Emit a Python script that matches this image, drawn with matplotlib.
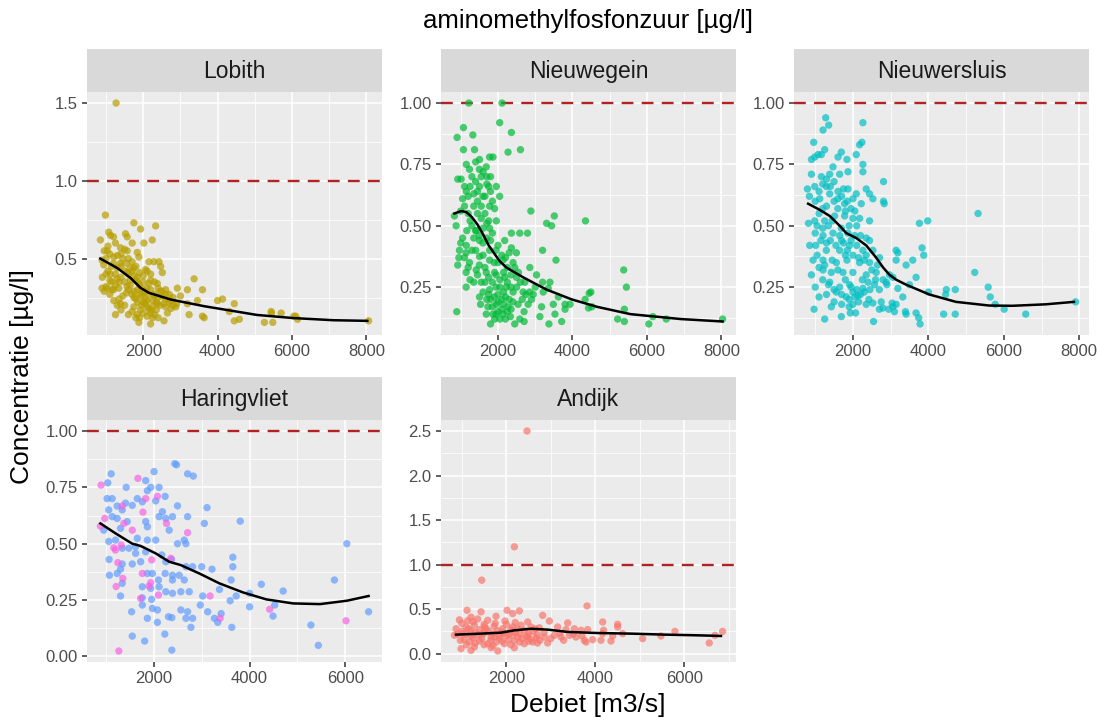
import numpy as np
import matplotlib.pyplot as plt
from matplotlib.ticker import MultipleLocator, FormatStrFormatter

plt.rcParams['font.family'] = ['Liberation Sans', 'DejaVu Sans']

# ---- data: (debiet m3/s, concentratie ug/l) ----
lobith_pts = [
    (1270, 1.50), (983, 0.78), (1748, 0.73), (1928, 0.69), (2333, 0.71), (1073, 0.67),
    (1118, 0.65), (848, 0.62), (1523, 0.66), (1568, 0.64), (2243, 0.62), (2018, 0.60),
    (1703, 0.60), (1253, 0.60), (1388, 0.57), (1028, 0.55), (1568, 0.55), (1838, 0.54),
    (1883, 0.51), (893, 0.49), (938, 0.46), (1208, 0.51), (1388, 0.47), (2153, 0.48),
    (2288, 0.48), (2423, 0.48), (2468, 0.45), (2513, 0.41), (2063, 0.43), (1748, 0.44),
    (1568, 0.41), (1118, 0.40), (1298, 0.37), (1838, 0.38), (2198, 0.36), (2378, 0.34),
    (3368, 0.37), (893, 0.31), (1028, 0.31), (1163, 0.30), (1343, 0.31), (1568, 0.32),
    (1748, 0.29), (2018, 0.28), (2288, 0.26), (2603, 0.30), (2918, 0.31), (3188, 0.30),
    (3593, 0.30), (1208, 0.23), (1388, 0.21), (1748, 0.19), (1928, 0.17), (2108, 0.23),
    (2378, 0.21), (2738, 0.23), (2873, 0.19), (3188, 0.21), (3233, 0.14), (1253, 0.14),
    (1838, 0.14), (2198, 0.15), (2558, 0.10), (2198, 0.08), (1883, 0.09), (3458, 0.23),
    (3593, 0.13), (3638, 0.12), (3998, 0.23), (4133, 0.24), (4448, 0.21), (4313, 0.16),
    (4448, 0.10), (4583, 0.11), (5258, 0.09), (5438, 0.16), (5483, 0.09), (5708, 0.15),
    (5450, 0.15), (6050, 0.13), (6150, 0.11), (6100, 0.13), (8060, 0.10),
    (1400, 0.45), (1500, 0.42), (1600, 0.40), (1700, 0.42), (1800, 0.36), (1900, 0.33),
    (2000, 0.35), (2100, 0.31), (2200, 0.30), (2300, 0.27), (2400, 0.25), (2500, 0.26),
    (2600, 0.24), (2700, 0.22), (1650, 0.33), (1550, 0.28), (1450, 0.26), (1350, 0.24),
    (1750, 0.25), (1850, 0.22), (1950, 0.20), (2050, 0.21), (2150, 0.18), (2250, 0.19),
    (2350, 0.17), (2450, 0.20), (1300, 0.44), (1200, 0.47), (1100, 0.53), (1000, 0.50),
    (900, 0.38), (1050, 0.42), (1150, 0.35), (1250, 0.33), (1700, 0.48), (1800, 0.45),
    (1900, 0.41), (2000, 0.39), (2100, 0.42), (2200, 0.40), (1600, 0.50), (1650, 0.36),
    (2300, 0.35), (2400, 0.31), (2500, 0.29), (2600, 0.27), (2800, 0.25), (2900, 0.21),
    (3000, 0.26), (1950, 0.26), (2050, 0.24), (2150, 0.27), (1850, 0.30), (1500, 0.35),
    (1400, 0.38), (1000, 0.32), (950, 0.29), (1100, 0.27), (1300, 0.20), (1700, 0.16),
    (1900, 0.12), (2000, 0.15), (2100, 0.13), (2250, 0.12), (2650, 0.15), (2750, 0.18),
    (1150, 0.45), (1250, 0.40), (1350, 0.35), (1450, 0.50), (1550, 0.47), (1650, 0.44),
    (1750, 0.39), (1850, 0.35), (1950, 0.31), (2050, 0.29), (2150, 0.34), (2250, 0.23),
    (2350, 0.22), (2450, 0.29), (2550, 0.21), (1600, 0.30), (1700, 0.27), (1800, 0.24),
    (1900, 0.27), (2000, 0.22), (2100, 0.19), (2200, 0.17), (1500, 0.20), (1400, 0.17),
    (1600, 0.14), (1800, 0.12), (2300, 0.14), (2400, 0.12), (2600, 0.19), (2700, 0.27),
    (2800, 0.20), (1000, 0.40), (1100, 0.36), (1200, 0.30), (950, 0.55), (1050, 0.58),
    (1300, 0.52), (1400, 0.53), (1500, 0.56), (1200, 0.64),
]
lobith_fit = [(846, 0.50), (1297, 0.44), (1657, 0.376), (1927, 0.312), (2153, 0.28),
              (2738, 0.237), (3640, 0.194), (4451, 0.162), (5054, 0.138), (6027, 0.118),
              (7108, 0.104), (8027, 0.10)]

nieuwegein_pts = [
    (1217, 1.00), (2108, 1.00), (2045, 0.92), (2360, 0.88), (1073, 0.90), (1325, 0.87),
    (902, 0.86), (2270, 0.80), (2603, 0.81), (1073, 0.81), (1370, 0.81), (1775, 0.78),
    (1865, 0.78), (1235, 0.73), (1505, 0.77), (1685, 0.74), (1010, 0.69), (920, 0.69),
    (1100, 0.66), (1955, 0.66), (2045, 0.62), (1505, 0.66), (1595, 0.62), (1775, 0.58),
    (1910, 0.57), (2882, 0.56), (3512, 0.54), (3440, 0.50), (3305, 0.51), (4349, 0.52),
    (830, 0.54), (875, 0.50), (1163, 0.48), (1415, 0.48), (1775, 0.49), (1955, 0.52),
    (2360, 0.47), (2585, 0.47), (2792, 0.47), (2180, 0.44), (1505, 0.44), (965, 0.40),
    (1145, 0.39), (1595, 0.43), (1775, 0.40), (2000, 0.42), (2360, 0.41), (2495, 0.39),
    (3197, 0.40), (920, 0.34), (1235, 0.35), (1505, 0.375), (1775, 0.36), (2135, 0.36),
    (2405, 0.35), (3557, 0.36), (2855, 0.33), (3035, 0.30), (1145, 0.31), (1415, 0.32),
    (1685, 0.31), (1910, 0.31), (2180, 0.29), (2495, 0.29), (2720, 0.27), (3197, 0.27),
    (3395, 0.27), (1145, 0.25), (1505, 0.21), (1775, 0.24), (2000, 0.22), (2225, 0.25),
    (2405, 0.23), (2675, 0.23), (2945, 0.22), (3215, 0.23), (3350, 0.245), (5375, 0.32),
    (5447, 0.25), (4448, 0.225), (4493, 0.23), (4340, 0.20), (3620, 0.21), (3800, 0.18),
    (3935, 0.18), (3485, 0.18), (3170, 0.17), (2810, 0.18), (2540, 0.18), (2270, 0.17),
    (1955, 0.18), (1730, 0.17), (1532, 0.18), (1685, 0.14), (1865, 0.14), (2135, 0.14),
    (2333, 0.13), (2585, 0.12), (1910, 0.12), (2450, 0.10), (2702, 0.11), (3125, 0.13),
    (3368, 0.10), (3710, 0.11), (3530, 0.14), (3800, 0.16), (4430, 0.165), (4520, 0.17),
    (5213, 0.12), (5393, 0.11), (5393, 0.16), (6050, 0.10), (6158, 0.13), (6518, 0.12),
    (8030, 0.12), (893, 0.15),
    (1300, 0.70), (1400, 0.68), (1450, 0.64), (1550, 0.70), (1600, 0.72), (1700, 0.70),
    (1800, 0.64), (1850, 0.60), (1200, 0.62), (1150, 0.64), (1050, 0.61), (1350, 0.58),
    (1450, 0.55), (1550, 0.53), (1650, 0.55), (1750, 0.52), (1850, 0.47), (1700, 0.45),
    (1600, 0.38), (1650, 0.33), (1750, 0.29), (1850, 0.27), (1950, 0.25), (2050, 0.28),
    (2150, 0.31), (2250, 0.33), (2350, 0.30), (1450, 0.30), (1350, 0.27), (1250, 0.28),
    (1150, 0.42), (1050, 0.45), (950, 0.37), (1000, 0.56), (1100, 0.58), (1250, 0.52),
    (1350, 0.45), (1400, 0.40), (1500, 0.34), (1550, 0.27), (1600, 0.23), (1700, 0.20),
    (1800, 0.20), (1900, 0.21), (2000, 0.19), (2100, 0.20), (2200, 0.21), (2300, 0.20),
    (2400, 0.19), (2500, 0.25), (2600, 0.27), (2000, 0.35), (1950, 0.40), (2100, 0.38),
    (2200, 0.37), (2300, 0.39), (2000, 0.15), (2100, 0.16), (2200, 0.12), (1800, 0.10),
    (2700, 0.15), (2900, 0.20), (3000, 0.25), (2850, 0.23),
    (1250, 0.66), (1350, 0.63), (1450, 0.60), (1550, 0.58), (1650, 0.62), (1750, 0.66),
    (1200, 0.55), (1300, 0.50), (1400, 0.48), (1500, 0.46), (1600, 0.49), (1700, 0.51),
    (1800, 0.44), (1900, 0.35), (1950, 0.30), (2050, 0.25), (2150, 0.23), (2250, 0.27),
    (2350, 0.25), (2450, 0.33), (2550, 0.31), (2650, 0.20), (2750, 0.22), (1650, 0.27),
    (1750, 0.22), (1850, 0.17), (1950, 0.14), (2050, 0.12), (2150, 0.18), (2250, 0.15),
    (2350, 0.16), (1100, 0.37), (1200, 0.33), (1300, 0.40), (1000, 0.43), (1150, 0.75),
    (1400, 0.76), (1500, 0.73), (1700, 0.67), (1800, 0.70),
]
nieuwegein_fit = [(830, 0.55), (1010, 0.56), (1150, 0.556), (1300, 0.535), (1450, 0.505),
                  (1600, 0.465), (1750, 0.42), (1910, 0.385), (2050, 0.355), (2225, 0.33),
                  (2450, 0.31), (2675, 0.29), (3305, 0.24), (3980, 0.20), (4655, 0.17),
                  (5555, 0.14), (6905, 0.12), (8030, 0.11)]

nieuwersluis_pts = [
    (1278, 0.94), (1357, 0.91), (1207, 0.89), (2264, 0.92), (960, 0.84), (1251, 0.81),
    (1075, 0.79), (899, 0.77), (987, 0.78), (1163, 0.79), (1692, 0.80), (2088, 0.79),
    (2176, 0.83), (2238, 0.84), (1841, 0.77), (1604, 0.78), (2264, 0.75), (2264, 0.72),
    (899, 0.71), (1163, 0.70), (1384, 0.71), (1648, 0.71), (1868, 0.72), (1471, 0.74),
    (2811, 0.68), (793, 0.65), (987, 0.66), (1295, 0.66), (1384, 0.63), (1604, 0.64),
    (1868, 0.65), (2088, 0.63), (2352, 0.65), (2440, 0.63), (846, 0.62), (1119, 0.61),
    (1780, 0.59), (2000, 0.61), (2220, 0.59), (2529, 0.61), (2811, 0.60), (2829, 0.59),
    (5317, 0.55), (820, 0.51), (987, 0.52), (1251, 0.52), (1515, 0.54), (1780, 0.54),
    (2176, 0.53), (2440, 0.52), (3762, 0.51), (3982, 0.52), (1207, 0.46), (1471, 0.47),
    (1692, 0.49), (1868, 0.47), (2046, 0.46), (2352, 0.45), (2440, 0.44), (854, 0.42),
    (1013, 0.42), (1295, 0.40), (1648, 0.40), (1912, 0.42), (2264, 0.40), (2529, 0.40),
    (3832, 0.41), (3876, 0.38), (3145, 0.40), (3190, 0.39), (943, 0.36), (1207, 0.36),
    (1560, 0.35), (1841, 0.36), (2176, 0.35), (2440, 0.35), (2705, 0.37), (3145, 0.36),
    (3586, 0.36), (3410, 0.34), (899, 0.30), (1207, 0.32), (1427, 0.31), (1736, 0.31),
    (2000, 0.31), (2352, 0.30), (2617, 0.31), (2970, 0.30), (3058, 0.29), (3674, 0.29),
    (5229, 0.31), (1384, 0.27), (1648, 0.25), (1912, 0.26), (2264, 0.245), (2573, 0.26),
    (2882, 0.27), (3190, 0.245), (3498, 0.26), (4000, 0.23), (4476, 0.24), (4713, 0.24),
    (5586, 0.25), (4458, 0.22), (1560, 0.23), (1824, 0.21), (2132, 0.215), (2423, 0.20),
    (2749, 0.19), (3040, 0.185), (3322, 0.21), (5640, 0.21), (5772, 0.18), (6010, 0.16),
    (7903, 0.19), (969, 0.16), (1427, 0.17), (1930, 0.145), (2070, 0.145), (2352, 0.18),
    (2529, 0.185), (2793, 0.165), (3058, 0.17), (3145, 0.18), (3392, 0.15), (3410, 0.14),
    (3674, 0.145), (3744, 0.125), (3780, 0.10), (4405, 0.14), (4713, 0.14), (6581, 0.14),
    (1251, 0.12), (2546, 0.11), (1692, 0.13),
    (1100, 0.55), (1200, 0.57), (1300, 0.58), (1500, 0.60), (1600, 0.57), (1700, 0.62),
    (1800, 0.56), (1900, 0.50), (2000, 0.53), (2100, 0.50), (1000, 0.47), (1150, 0.44),
    (1300, 0.43), (1400, 0.44), (1550, 0.42), (1700, 0.44), (1800, 0.38), (2000, 0.38),
    (2150, 0.37), (2300, 0.36), (1100, 0.33), (1200, 0.28), (1350, 0.26), (1500, 0.24),
    (1700, 0.22), (1900, 0.20), (2000, 0.23), (2100, 0.24), (2200, 0.22), (2400, 0.27),
    (2600, 0.28), (2700, 0.24), (2900, 0.26), (1000, 0.25), (1100, 0.21), (1900, 0.17),
    (2700, 0.16), (2950, 0.16), (3100, 0.15),
    (1000, 0.60), (1100, 0.64), (1200, 0.67), (1300, 0.69), (1400, 0.66), (1500, 0.68),
    (1600, 0.61), (1750, 0.65), (1850, 0.60), (1950, 0.57), (2050, 0.56), (1050, 0.50),
    (1200, 0.49), (1350, 0.50), (1450, 0.52), (1650, 0.46), (1750, 0.43), (1850, 0.40),
    (1950, 0.44), (2100, 0.42), (2200, 0.46), (2350, 0.38), (2500, 0.32), (2650, 0.34),
    (2800, 0.28), (1050, 0.38), (1250, 0.34), (1450, 0.36), (1600, 0.32), (1800, 0.28),
    (1950, 0.25), (2050, 0.21), (2150, 0.19), (2300, 0.23), (2450, 0.24), (1300, 0.22),
    (1500, 0.19), (1700, 0.18), (2000, 0.18), (2250, 0.28),
]
nieuwersluis_fit = [(811, 0.59), (1119, 0.565), (1384, 0.54), (1648, 0.50), (1824, 0.47),
                    (2088, 0.45), (2352, 0.42), (2617, 0.37), (2800, 0.33), (2970, 0.30),
                    (3150, 0.28), (3410, 0.26), (4026, 0.22), (4731, 0.19), (5612, 0.175),
                    (6229, 0.174), (7110, 0.18), (7860, 0.19)]

haringvliet_blue = [
    (2435, 0.855), (2470, 0.85), (2702, 0.81), (2821, 0.80), (2000, 0.82), (1102, 0.81),
    (1031, 0.77), (1417, 0.75), (1825, 0.78), (1930, 0.75), (2105, 0.75), (1860, 0.735),
    (1017, 0.70), (1123, 0.70), (2035, 0.69), (2232, 0.71), (1649, 0.70), (1754, 0.686),
    (1403, 0.68), (1544, 0.67), (1228, 0.667), (2491, 0.668), (3109, 0.66), (1052, 0.65),
    (1333, 0.65), (2175, 0.642), (2386, 0.62), (2702, 0.62), (3804, 0.60), (3053, 0.59),
    (1123, 0.62), (1228, 0.612), (1438, 0.598), (1825, 0.598), (2105, 0.62), (2246, 0.612),
    (2316, 0.56), (1860, 0.575), (1298, 0.568), (947, 0.56), (1052, 0.51), (1193, 0.516),
    (1649, 0.524), (1860, 0.516), (2035, 0.516), (2491, 0.50), (2667, 0.50), (2632, 0.516),
    (1614, 0.487), (1473, 0.48), (1333, 0.48), (2161, 0.45), (2246, 0.42), (2365, 0.43),
    (3649, 0.44), (1614, 0.457), (1825, 0.464), (1059, 0.43), (1333, 0.41), (1544, 0.41),
    (1719, 0.42), (1965, 0.368), (1860, 0.368), (1066, 0.36), (1228, 0.368), (1298, 0.387),
    (2667, 0.398), (2807, 0.398), (2997, 0.398), (3214, 0.387), (3649, 0.398), (2386, 0.36),
    (2526, 0.36), (2632, 0.339), (3614, 0.339), (2386, 0.339), (2232, 0.368), (2091, 0.339),
    (1333, 0.324), (1754, 0.309), (1930, 0.302), (2105, 0.309), (2246, 0.287), (2386, 0.28),
    (2561, 0.287), (2737, 0.287), (3018, 0.268), (3369, 0.297), (3593, 0.247), (3719, 0.268),
    (4000, 0.28), (4246, 0.32), (4702, 0.29), (5776, 0.339), (6035, 0.50), (1298, 0.268),
    (1754, 0.26), (1949, 0.253), (1754, 0.228), (1965, 0.213), (2070, 0.206), (1530, 0.198),
    (2561, 0.206), (2702, 0.198), (2968, 0.228), (3123, 0.198), (4000, 0.22), (4491, 0.179),
    (4526, 0.228), (3404, 0.19), (3263, 0.169), (3334, 0.151), (2807, 0.169), (2667, 0.169),
    (2302, 0.176), (2372, 0.172), (2070, 0.151), (1860, 0.169), (2772, 0.129), (3628, 0.129),
    (5284, 0.139), (5439, 0.049), (6491, 0.198), (2225, 0.099), (1544, 0.09), (1803, 0.068),
    (2372, 0.028),
]
haringvliet_pink = [
    (891, 0.76), (1663, 0.79), (968, 0.612), (877, 0.578), (1333, 0.667), (1368, 0.59),
    (1544, 0.56), (1312, 0.494), (1193, 0.472), (1158, 0.482), (1242, 0.416), (1951, 0.428),
    (2260, 0.59), (2702, 0.549), (1825, 0.70), (2070, 0.71), (1768, 0.64), (1207, 0.31),
    (1347, 0.346), (1754, 0.368), (1930, 0.327), (1895, 0.312), (1719, 0.257), (2091, 0.272),
    (2351, 0.435), (3172, 0.268), (3383, 0.169), (4421, 0.209), (6018, 0.158), (1263, 0.024),
]
haringvliet_fit = [(877, 0.59), (1193, 0.546), (1544, 0.50), (1719, 0.49), (2035, 0.457),
                   (2316, 0.42), (2561, 0.405), (2947, 0.368), (3369, 0.324), (3860, 0.284),
                   (4351, 0.253), (4912, 0.235), (5474, 0.232), (6035, 0.247), (6491, 0.268)]

andijk_pts = [
    (2464, 2.50), (2180, 1.20), (1446, 0.825), (3813, 0.536), (2015, 0.487), (2292, 0.48),
    (2142, 0.45), (1116, 0.487), (1431, 0.47), (2816, 0.43), (1206, 0.41), (1768, 0.42),
    (944, 0.38), (1131, 0.37), (1356, 0.39), (1581, 0.375), (1970, 0.367), (2479, 0.356),
    (2966, 0.367), (3378, 0.345), (4165, 0.356), (4502, 0.33), (4502, 0.30), (3528, 0.28),
    (3678, 0.262), (3828, 0.27), (869, 0.28), (1094, 0.30), (1281, 0.32), (1506, 0.30),
    (1723, 0.307), (1918, 0.28), (2142, 0.30), (2330, 0.32), (2554, 0.30), (2741, 0.29),
    (3153, 0.30), (3340, 0.27), (4187, 0.262), (4614, 0.225), (4165, 0.225), (5790, 0.25),
    (6861, 0.25), (6689, 0.206), (5475, 0.199), (5063, 0.169), (6561, 0.12), (832, 0.206),
    (1019, 0.225), (1206, 0.195), (1431, 0.217), (1656, 0.187), (1843, 0.206), (2067, 0.225),
    (2255, 0.187), (2479, 0.195), (2667, 0.18), (2854, 0.187), (3078, 0.206), (3228, 0.187),
    (3416, 0.206), (3566, 0.187), (3753, 0.15), (3791, 0.131), (3940, 0.157), (4127, 0.15),
    (4352, 0.142), (4390, 0.199), (966, 0.15), (1169, 0.131), (1393, 0.142), (1581, 0.112),
    (1768, 0.131), (1955, 0.112), (2180, 0.142), (2404, 0.112), (2592, 0.131), (2929, 0.12),
    (3288, 0.15), (1206, 0.037), (981, 0.056), (1806, 0.03), (1656, 0.067), (1281, 0.075),
    (2180, 0.067),
    (1000, 0.25), (1100, 0.22), (1200, 0.26), (1300, 0.24), (1400, 0.27), (1500, 0.23),
    (1600, 0.25), (1700, 0.22), (1800, 0.26), (1900, 0.24), (2000, 0.20), (2100, 0.27),
    (2200, 0.24), (2300, 0.22), (2400, 0.26), (2500, 0.23), (2600, 0.25), (2700, 0.21),
    (1050, 0.16), (1250, 0.18), (1450, 0.17), (1650, 0.15), (1850, 0.17), (2050, 0.16),
    (2350, 0.17), (2550, 0.16), (2750, 0.15),
    (900, 0.22), (1150, 0.28), (1350, 0.21), (1550, 0.28), (1750, 0.19), (1950, 0.23),
    (2150, 0.21), (2250, 0.28), (2450, 0.19), (2650, 0.28), (2850, 0.24), (3000, 0.17),
    (3200, 0.23), (3500, 0.22), (3700, 0.20), (1100, 0.10), (1300, 0.12), (1500, 0.10),
    (1700, 0.09), (1900, 0.14), (2100, 0.10), (2300, 0.13), (2500, 0.14), (2700, 0.12),
    (1000, 0.34), (1250, 0.36), (1500, 0.33), (1750, 0.34), (2000, 0.33), (2200, 0.35),
]
andijk_fit = [(869, 0.214), (1431, 0.225), (1880, 0.236), (2180, 0.262), (2554, 0.28),
              (2929, 0.27), (3378, 0.244), (4050, 0.232), (4801, 0.225), (5550, 0.214),
              (6300, 0.206), (6824, 0.199)]

limit = 1.0

# ---- layout (pixels in a 1097x720 figure) ----
W, H = 1097, 720
fig = plt.figure(figsize=(W / 100, H / 100), dpi=100)

def add_ax(x0, y0, x1, y1, **kw):
    return fig.add_axes([x0 / W, 1 - y1 / H, (x1 - x0) / W, (y1 - y0) / H], **kw)

panels = [
    ("Lobith", [(lobith_pts, "#B79F00")], lobith_fit, 0.5, "%.1f", (87, 92, 382, 335)),
    ("Nieuwegein", [(nieuwegein_pts, "#00BA38")], nieuwegein_fit, 0.25, "%.2f", (441, 92, 736, 335)),
    ("Nieuwersluis", [(nieuwersluis_pts, "#00BFC4")], nieuwersluis_fit, 0.25, "%.2f", (794, 92, 1089, 335)),
    ("Haringvliet", [(haringvliet_blue, "#619CFF"), (haringvliet_pink, "#F564E3")],
     haringvliet_fit, 0.25, "%.2f", (87, 420, 382, 662)),
    ("Andijk", [(andijk_pts, "#F8766D")], andijk_fit, 0.5, "%.1f", (441, 420, 736, 662)),
]

for name, groups, fit, ystep, fmt, (x0, y0, x1, y1) in panels:
    ax = add_ax(x0, y0, x1, y1)
    ax.set_facecolor("#EBEBEB")
    allx, ally = [], []
    for pts, col in groups:
        px = np.array([p[0] for p in pts])
        py = np.array([p[1] for p in pts])
        allx += list(px)
        ally += list(py)
        ax.scatter(px, py, s=28, color=col, alpha=0.7, edgecolors="none", zorder=3)
    fx = [p[0] for p in fit]
    fy = [p[1] for p in fit]
    ax.plot(fx, fy, color="black", lw=1.8, zorder=4, solid_joinstyle="round")
    ax.axhline(limit, color="#B22222", lw=1.7, dashes=(5, 3.5), zorder=2)

    xlo, xhi = min(allx), max(allx)
    ylo, yhi = min(min(ally), limit), max(max(ally), limit)
    ax.set_xlim(xlo - 0.05 * (xhi - xlo), xhi + 0.05 * (xhi - xlo))
    ax.set_ylim(ylo - 0.05 * (yhi - ylo), yhi + 0.05 * (yhi - ylo))

    ax.xaxis.set_major_locator(MultipleLocator(2000))
    ax.xaxis.set_minor_locator(MultipleLocator(1000))
    ax.yaxis.set_major_locator(MultipleLocator(ystep))
    ax.yaxis.set_minor_locator(MultipleLocator(ystep / 2))
    ax.yaxis.set_major_formatter(FormatStrFormatter(fmt))
    ax.grid(which="major", color="white", lw=1.1, zorder=0)
    ax.grid(which="minor", color="white", lw=0.55, zorder=0)
    ax.set_axisbelow(True)
    for s in ax.spines.values():
        s.set_visible(False)
    ax.tick_params(which="major", length=3.8, width=1.1, color="#333333",
                   labelsize=12, labelcolor="#4D4D4D", pad=3)
    ax.tick_params(which="minor", length=0)

    sax = add_ax(x0, y0 - 43, x1, y0)
    sax.set_facecolor("#D9D9D9")
    sax.set_xticks([])
    sax.set_yticks([])
    for s in sax.spines.values():
        s.set_visible(False)
    sax.text(0.5, 0.48, name, ha="center", va="center", fontsize=16.5,
             color="#1A1A1A", transform=sax.transAxes)

fig.text(588 / W, 1 - 21 / H, "aminomethylfosfonzuur [µg/l]", ha="center", va="center",
         fontsize=18.5)
fig.text(22 / W, 1 - 377 / H, "Concentratie [µg/l]", ha="center", va="center",
         rotation=90, fontsize=19)
fig.text(588 / W, 1 - 705 / H, "Debiet [m3/s]", ha="center", va="center", fontsize=19)

fig.savefig("out.png", dpi=100, facecolor="white")
